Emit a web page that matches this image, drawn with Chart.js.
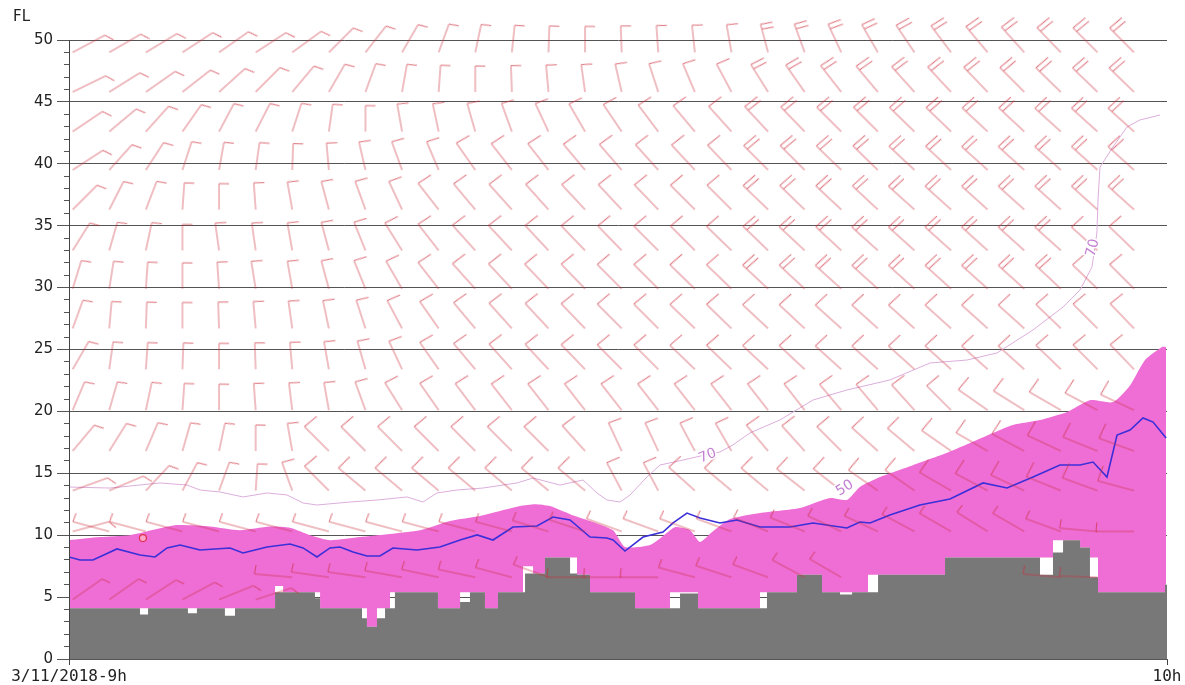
<!DOCTYPE html>
<html>
<head>
<meta charset="utf-8">
<script src="https://cdn.jsdelivr.net/npm/chart.js@4.4.0/dist/chart.umd.min.js"></script>
<style>
html,body{margin:0;padding:0;background:#fff;}
</style>
</head>
<body>
<canvas id="c" width="1185" height="685"></canvas>
<script>
// x values are minutes after 9h, y values are flight levels

// cloud (magenta) upper edge
const cloudX = [0,1.69,3.33,5.79,7.70,9.34,10.98,12.08,13.17,14.26,15.90,17.54,19.18,20.82,22.46,23.55,24.64,25.46,26.28,27.38,28.47,29.73,30.38,31.75,32.68,33.11,33.93,34.48,35.14,36.12,37.76,39.95,41.58,42.51,43.22,44.32,46.12,47.98,50.49,51.58,53.06,54.54,55.79,57.05,57.98,58.80,59.73,59.95];
const cloudTop = [9.6,9.85,10.0,10.8,10.7,10.4,10.7,10.6,10.0,9.6,9.85,10.1,10.4,11.15,11.55,11.95,12.35,12.5,12.35,11.7,11.15,10.4,9.05,9.2,10.2,10.65,10.4,9.45,10.25,11.3,11.8,12.2,13.0,12.85,13.9,14.7,15.65,16.65,18.25,18.9,19.3,19.95,20.9,20.75,22.1,24.15,25.2,25.2];

// cloud lower edge (step profile, leaves thin white gaps above the relief)
const cloudBaseX = [0,11.26,11.70,13.33,13.72,16.01,16.28,16.83,17.54,20.16,21.37,22.73,23.44,24.81,25.36,26.01,27.76,28.47,30.93,32.84,34.37,37.76,39.78,41.15,43.66,47.87,53.77,54.32,55.25,55.79,56.23,59.89,60];
const cloudBase = [4.1,5.9,5.4,5.4,4.1,4.1,2.6,4.1,5.4,4.1,5.4,4.1,5.4,7.5,6.9,8.2,6.8,5.4,4.1,5.4,4.1,5.4,6.8,5.4,6.8,8.2,9.6,9.6,9.0,8.2,5.4,6.0,6.0];

// relief (step profile)
const terrainX = [0,3.88,4.32,6.50,6.99,8.52,9.07,11.26,13.44,13.72,16.01,16.28,16.83,17.27,17.81,20.16,21.37,21.91,22.73,23.44,24.92,26.01,27.38,27.76,28.47,30.93,33.39,34.37,38.14,39.78,41.15,42.13,42.79,44.21,47.87,53.06,53.77,54.32,55.25,55.79,56.23,59.89,60];
const terrainTop = [4.1,3.6,4.1,3.7,4.1,3.5,4.1,5.4,4.9,4.1,3.3,2.6,3.3,4.1,5.4,4.1,4.6,5.4,4.1,5.4,6.9,8.2,6.9,6.8,5.4,4.1,5.3,4.1,5.4,6.8,5.4,5.2,5.4,6.8,8.2,6.8,8.6,9.6,9.0,6.6,5.4,6.0,6.0];

// blue line
const lineX = [0,0.60,1.31,2.62,3.88,4.70,5.36,6.07,7.16,8.80,9.51,10.82,12.08,12.79,13.55,14.26,14.81,15.52,16.28,16.99,17.70,19.02,20.27,21.37,22.30,23.17,24.26,25.57,26.45,27.38,28.47,29.40,29.73,30.38,31.37,32.46,33.01,33.77,34.48,35.57,36.50,37.76,39.40,40.66,42.51,43.22,43.77,44.86,46.50,48.14,49.95,51.26,52.68,54.15,55.25,55.96,56.72,57.27,57.98,58.69,59.24,59.95];
const lineFL = [8.24,8.0,8.0,8.89,8.40,8.24,8.97,9.21,8.80,8.97,8.56,9.05,9.29,8.97,8.24,8.97,9.05,8.64,8.32,8.32,8.97,8.80,9.05,9.61,10.02,9.61,10.66,10.74,11.47,11.23,9.85,9.77,9.61,8.72,9.85,10.26,10.99,11.79,11.39,10.99,11.23,10.66,10.66,10.99,10.58,11.07,10.99,11.63,12.44,12.92,14.22,13.81,14.70,15.67,15.67,15.91,14.70,18.09,18.50,19.47,19.14,17.85];

// "70" contour
const contourX = [0,2.24,4.97,6.45,7.16,8.25,9.51,10.82,11.91,12.79,13.55,15.36,16.83,18.47,19.34,20.11,21.20,22.62,24.48,25.36,26.83,28.09,28.85,29.40,30.11,30.66,31.58,32.30,33.55,34.75,35.57,36.28,37.21,38.85,40.66,42.51,44.86,47.05,49.07,50.71,52.68,54.32,55.25,55.90,56.17,56.23,56.34,57.05,57.81,58.52,59.62];
const contourFL = [13.89,13.81,14.22,14.05,13.65,13.49,13.09,13.41,13.25,12.60,12.44,12.68,12.84,13.09,12.68,13.41,13.65,13.81,14.22,14.62,14.05,14.46,13.41,12.84,12.68,13.25,14.70,15.67,16.07,16.48,16.72,17.29,18.26,19.31,20.92,21.73,22.54,23.91,24.15,24.72,26.58,28.43,29.81,31.66,34.41,37.08,39.74,41.36,42.97,43.54,43.94];
const contourLabels = [['70',34.9,16.4,-22],['70',55.95,33.2,-76],['50',42.4,13.8,-32]];

// wind barbs: columns (minutes), levels (FL), shaft direction per row (degrees, screen)
const barbTimes = [0.2,2.2,4.2,6.2,8.2,10.2,12.2,14.2,16.2,18.2,20.2,22.2,24.2,26.2,28.2,30.2,32.2,34.2,36.2,38.2,40.2,42.2,44.2,46.2,48.2,50.2,52.2,54.2,56.2,58.2];
const barbLevels = [49.0,45.8,42.6,39.5,36.3,33.0,29.9,26.7,23.4,20.1,16.8,13.6,10.3,6.6,4.8];
const barbDir0 = [28,30,31,33,35,33,36,45,52,60,70,78,84,88,90,92,94,96,100,105,110,115,120,124,127,130,132,134,135,135];
const barbDir1 = [26,32,35,38,42,45,50,60,70,80,86,90,92,95,98,103,108,113,118,122,125,128,130,132,133,134,135,136,136,136];
const barbDir2 = [34,40,48,55,62,63,72,82,90,100,102,106,110,115,120,124,127,130,132,133,134,135,135,136,136,137,137,138,138,138];
const barbDir3 = [33,48,57,72,80,82,88,95,103,110,113,125,128,128,130,131,132,133,134,135,135,136,136,137,137,138,138,138,138,138];
const barbDir4 = [45,63,69,86,90,94,100,105,110,115,128,130,132,132,133,133,134,135,135,136,136,137,137,138,138,138,138,138,138,138];
const barbDir5 = [58,74,78,90,98,98,100,105,112,122,128,132,133,133,134,134,135,135,136,136,137,137,138,138,138,138,138,138,138,136];
const barbDir6 = [73,81,86,90,94,99,100,105,112,120,128,132,133,134,134,135,135,136,136,137,137,138,138,138,138,138,138,137,136,135];
const barbDir7 = [70,85,88,90,92,95,98,102,108,118,125,130,132,133,134,135,135,136,136,137,137,138,138,138,138,138,138,136,135,134];
const barbDir8 = [60,82,86,88,90,92,95,100,106,115,125,130,132,133,134,135,135,136,136,137,137,138,138,138,138,138,138,136,135,134];
const barbDir9 = [67,74,78,86,90,94,97,100,110,122,125,127,128,128,128,128,128,128,128,128,128,130,130,132,135,145,148,150,152,155];
const barbDir10 = [50,58,67,74,78,90,100,135,135,135,135,135,135,135,132,115,115,118,120,130,132,135,138,140,145,150,152,155,158,160];
const barbDir11 = [20,23,47,62,70,86,110,135,140,140,140,140,140,140,140,118,118,138,140,140,142,142,145,145,150,152,155,158,160,165];
const barbDir12 = [15,165,165,165,165,165,165,165,165,165,165,165,165,163,162,160,160,160,160,158,158,155,155,152,150,148,150,160,175,180];
const barbDir13 = [null,null,null,null,null,null,175,172,172,170,168,168,165,160,180,180,180,165,162,160,152,150,null,null,null,null,null,175,178,null];
const barbDir14 = [35,35,33,28,22,18,null,null,null,null,null,null,null,null,null,null,null,null,null,null,null,null,null,null,null,null,null,null,null,null];
// number of feathers per barb
const barbFeathers = [
  '111111111111111111122222222222',
  '111111111111111111122222222222',
  '111111111111111111122222222222',
  '111111111111111111122222222222',
  '111111111111111111122222222222',
  '111111111111111111122222222211',
  '111111111111111111122222222211',
  '111111111111111111111111111111',
  '111111111111111111111111111111',
  '111111111111111111111111111111',
  '111111111111111111111111111111',
  '111111111111111111111111111111',
  '111111111111111111111111111111',
  '111111111111111111111111111111',
  '111111111111111111111111111111'
];
const barbRows = [barbDir0,barbDir1,barbDir2,barbDir3,barbDir4,barbDir5,barbDir6,barbDir7,barbDir8,barbDir9,barbDir10,barbDir11,barbDir12,barbDir13,barbDir14];

const barbColor = 'rgba(205,45,60,0.62)';

// barb drawn pointing right from the centre, rotated later by chart.js
function makeBarb(dir, n, low){
  const R = 50;
  const cv = document.createElement('canvas');
  cv.width = cv.height = 2*R;
  const g = cv.getContext('2d');
  const len = 26 + 12*Math.abs(Math.cos(dir*Math.PI/180));
  const off = Math.min(95, Math.max(55, 55 + (dir-25)*0.55))*Math.PI/180;
  const fl = low ? 9 : (dir <= 90 ? 10 : Math.min(16, 10 + (dir-90)*0.14));
  g.strokeStyle = barbColor;
  g.lineWidth = 1.1;
  g.beginPath();
  g.moveTo(R, R);
  g.lineTo(R+len, R);
  for(let i=0;i<n;i++){
    const bx = R + len - i*5;
    g.moveTo(bx, R);
    g.lineTo(bx + fl*Math.cos(off), R + fl*Math.sin(off));
  }
  g.stroke();
  return cv;
}

const barbPoints = [];
barbRows.forEach((row, r)=>{
  row.forEach((dir, c)=>{
    if(dir===null) return;
    const n = +barbFeathers[r][c];
    barbPoints.push({x: barbTimes[c], y: barbLevels[r], dir: dir, img: makeBarb(dir, n, r>=12)});
  });
});

const toXY = (xs, ys) => xs.map((x,i)=>({x:x, y:ys[i]}));

// contour labels
const labelPlugin = {
  id:'contourLabels',
  afterDatasetsDraw(chart){
    const {ctx, scales:{x, y}} = chart;
    contourLabels.forEach(([t, mx, fl, rot])=>{
      ctx.save();
      ctx.translate(x.getPixelForValue(mx), y.getPixelForValue(fl));
      ctx.rotate(rot*Math.PI/180);
      ctx.font = '14px "DejaVu Sans"';
      ctx.textAlign = 'center';
      ctx.textBaseline = 'middle';
      ctx.lineWidth = 3;
      ctx.strokeStyle = '#fff';
      ctx.strokeText(t, 0, 0);
      ctx.fillStyle = '#c27fd2';
      ctx.fillText(t, 0, 0);
      ctx.restore();
    });
  }
};

new Chart(document.getElementById('c'), {
  type:'line',
  data:{
    datasets:[
      {
        label:'vent',
        data: barbPoints,
        showLine:false,
        clip:false,
        pointRadius:2,
        pointStyle: ctx => (ctx.raw && ctx.raw.img) ? ctx.raw.img : 'line',
        pointRotation: ctx => (ctx.raw && ctx.raw.dir!==undefined) ? -ctx.raw.dir : 0
      },
      {
        label:'marker',
        data:[{x:4.04, y:9.77}],
        showLine:false,
        pointRadius:3.5,
        pointBorderWidth:1.2,
        pointBorderColor:'#e0304e',
        pointBackgroundColor:'rgba(255,180,200,0.8)'
      },
      {
        label:'ligne',
        data: toXY(lineX, lineFL),
        borderColor:'#3b2fd8',
        borderWidth:1.6,
        pointRadius:0,
        fill:false,
        tension:0
      },
      {
        label:'isoligne',
        data: toXY(contourX, contourFL),
        borderColor:'#dcaedc',
        borderWidth:1,
        pointRadius:0,
        fill:false,
        tension:0
      },
      {
        label:'relief',
        data: toXY(terrainX, terrainTop),
        stepped:true,
        borderWidth:0,
        borderColor:'#787878',
        backgroundColor:'#787878',
        pointRadius:0,
        fill:'origin'
      },
      {
        label:'nuage',
        data: toXY(cloudX, cloudTop),
        borderWidth:0,
        borderColor:'#ee6ed6',
        backgroundColor:'#ee6ed6',
        pointRadius:0,
        fill:6,
        tension:0.2
      },
      {
        label:'base nuage',
        data: toXY(cloudBaseX, cloudBase),
        stepped:true,
        borderWidth:0,
        borderColor:'rgba(0,0,0,0)',
        pointRadius:0,
        fill:false
      }
    ]
  },
  options:{
    responsive:false,
    animation:false,
    devicePixelRatio:1,
    layout:{padding:{left:13, right:18, top:0, bottom:0}},
    plugins:{
      legend:{display:false},
      tooltip:{enabled:false},
      title:{
        display:true, text:'FL', align:'start', color:'#222',
        font:{family:'DejaVu Sans', size:15, weight:'normal', lineHeight:1.2},
        padding:{top:8, bottom:14}
      }
    },
    scales:{
      x:{
        type:'linear', min:0, max:60,
        afterFit(s){ s.height = 26; },
        border:{color:'#555', z:1},
        grid:{drawOnChartArea:false, tickLength:6, tickColor:'#444'},
        ticks:{
          stepSize:60, autoSkip:false, maxRotation:0, padding:2, color:'#222',
          font:{family:'DejaVu Sans Mono', size:16},
          callback: v => v===0 ? '3/11/2018-9h' : (v===60 ? '10h' : '')
        }
      },
      y:{
        min:0, max:50,
        afterFit(s){ s.width = 56; },
        border:{color:'#444', z:1},
        grid:{
          color: c => (c.tick && c.tick.value % 5 === 0) ? '#545454' : 'rgba(0,0,0,0)',
          tickColor:'#555',
          tickLength:12,
          tickBorderDash: c => (c.tick && c.tick.value % 5 === 0) ? [] : [0,7,5,40]
        },
        ticks:{
          stepSize:1, autoSkip:false, padding:4, color:'#222',
          font:{family:'DejaVu Sans', size:15},
          callback: v => v % 5 === 0 ? v : ''
        }
      }
    }
  },
  plugins:[labelPlugin]
});
</script>
</body>
</html>
